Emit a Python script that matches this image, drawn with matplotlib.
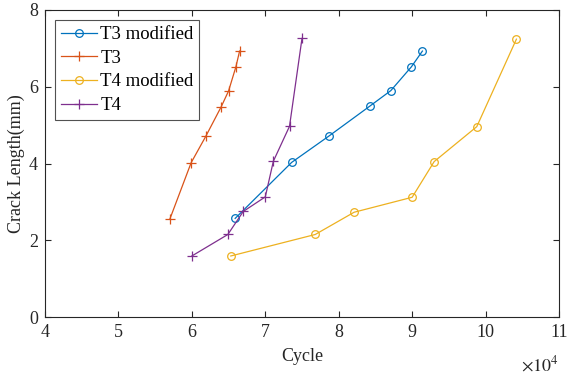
import numpy as np
import matplotlib.pyplot as plt

plt.rcParams['font.family'] = ['Liberation Serif', 'DejaVu Serif']

# cycles (x 1e4) and crack length (mm)
t3m_x = [6.59, 7.36, 7.87, 8.42, 8.71, 8.99, 9.14]
t3m_y = [2.57, 4.03, 4.72, 5.49, 5.90, 6.52, 6.93]
t3_x = [5.70, 5.99, 6.19, 6.40, 6.50, 6.60, 6.65]
t3_y = [2.55, 4.02, 4.71, 5.48, 5.89, 6.52, 6.93]
t4m_x = [6.53, 7.68, 8.21, 9.00, 9.30, 9.88, 10.42]
t4m_y = [1.59, 2.15, 2.73, 3.12, 4.05, 4.96, 7.24]
t4_x = [6.00, 6.49, 6.70, 7.00, 7.11, 7.33, 7.50]
t4_y = [1.59, 2.15, 2.75, 3.13, 4.06, 4.97, 7.26]

blue = (0, 0.447, 0.741)
orange = (0.85, 0.325, 0.098)
yellow = (0.929, 0.694, 0.125)
purple = (0.494, 0.184, 0.556)
axcol = (0.15, 0.15, 0.15)

fig = plt.figure(figsize=(5.68, 3.74), dpi=100)
ax = fig.add_axes([45 / 568, 1 - 317 / 374, 514 / 568, 307 / 374])

lw = 0.9
ax.plot(t3m_x, t3m_y, '-o', color=blue, lw=lw, ms=5.5, mfc='none', mew=0.9, label='T3 modified')
ax.plot(t3_x, t3_y, '-+', color=orange, lw=lw, ms=7, mew=0.9, label='T3')
ax.plot(t4m_x, t4m_y, '-o', color=yellow, lw=lw, ms=5.5, mfc='none', mew=0.9, label='T4 modified')
ax.plot(t4_x, t4_y, '-+', color=purple, lw=lw, ms=7, mew=0.9, label='T4')

ax.set_xlim(4, 11)
ax.set_ylim(0, 8)
ax.set_xticks(range(4, 12))
ax.set_yticks(range(0, 9, 2))
ax.tick_params(direction='in', top=True, right=True, length=4, width=0.8,
               colors=axcol, labelsize=13, pad=5)
for s in ax.spines.values():
    s.set_color(axcol)
    s.set_linewidth(0.8)

ax.set_xlabel('Cycle', fontsize=13, color=axcol, labelpad=5)
ax.set_ylabel('Crack Length(mm)', fontsize=13, color=axcol, labelpad=3)
ax.text(1.0, -0.125, r'$\times10^{4}$', transform=ax.transAxes, ha='right', va='top',
        fontsize=13, color=axcol, math_fontfamily='stix')

leg = ax.legend(loc='upper left', fontsize=13.5, frameon=True, fancybox=False,
                edgecolor=axcol, handlelength=1.9, handletextpad=0.2,
                borderpad=0.3, labelspacing=0.35, borderaxespad=0.55)
leg.get_frame().set_linewidth(0.8)

fig.savefig('out.png', dpi=100)
